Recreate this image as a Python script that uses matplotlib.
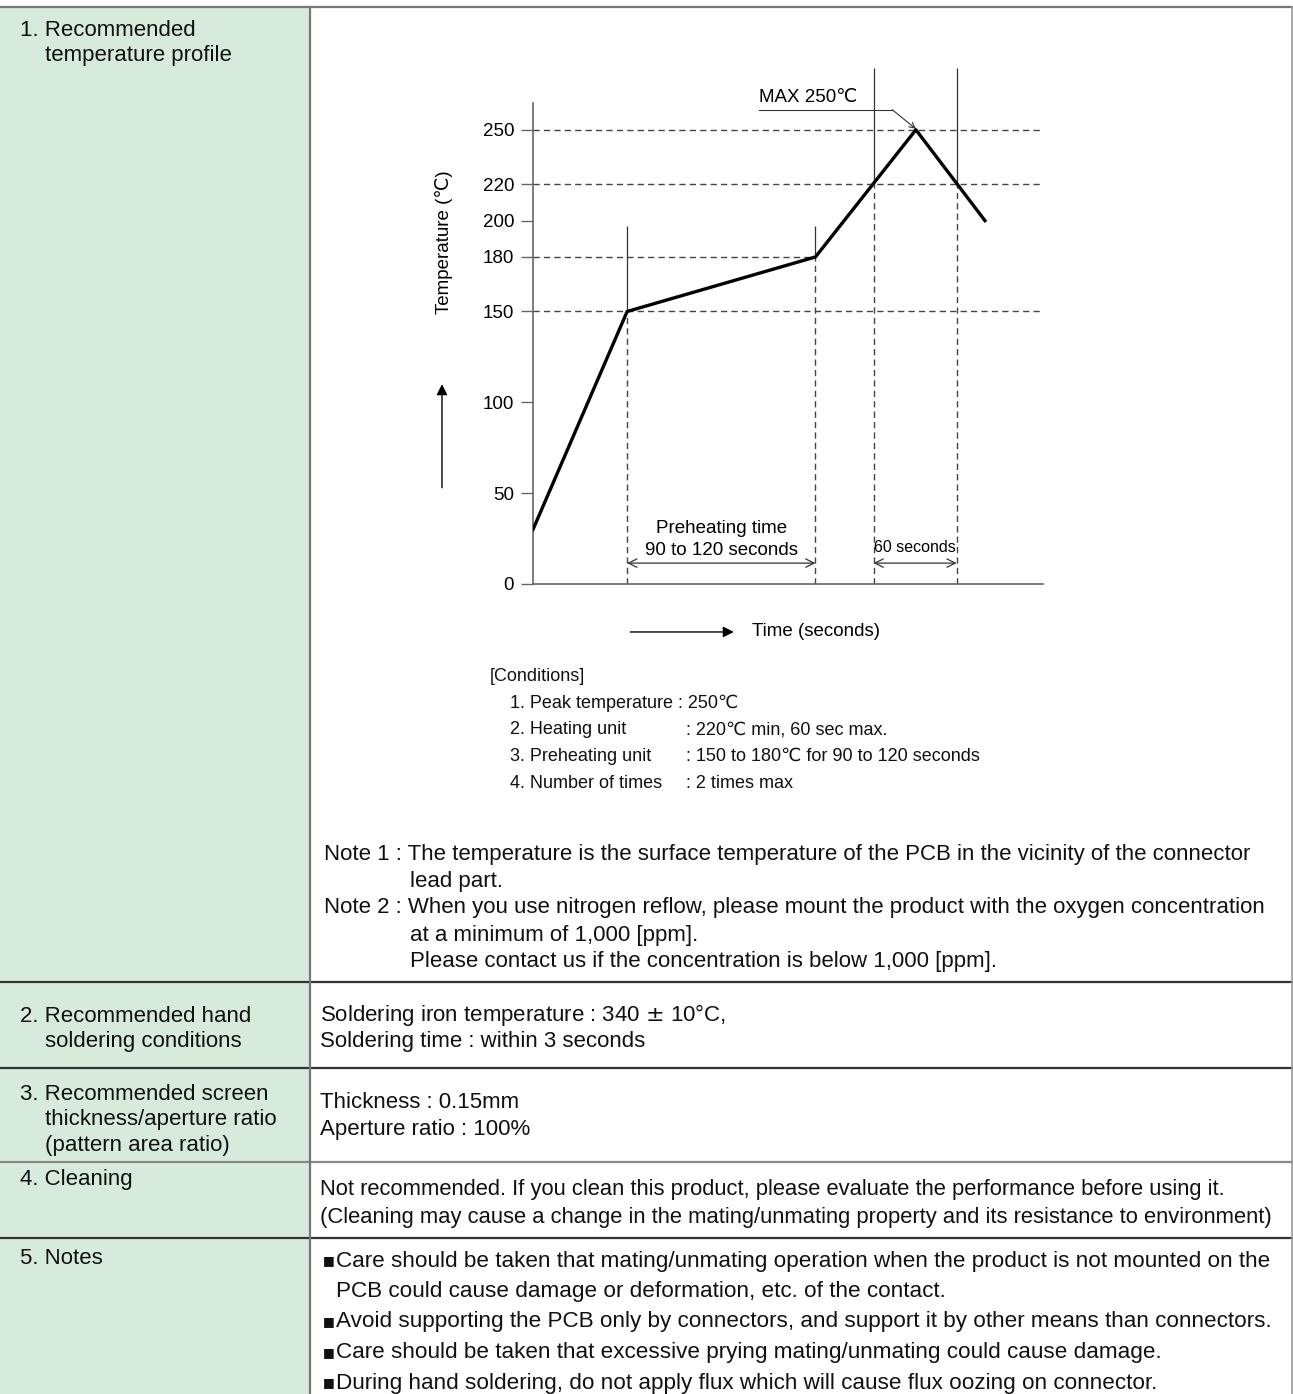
import matplotlib
matplotlib.use('Agg')  # no display
import matplotlib.pyplot as plt
from matplotlib.lines import Line2D
from matplotlib.patches import Rectangle

plt.rcParams['font.family'] = ['Liberation Sans', 'DejaVu Sans']

W, H, DPI = 1293, 1394, 100

# reflow profile (schematic, seconds / degC)
profile_time = [0, 60, 180, 244, 288]
profile_temp = [30, 150, 180, 250, 200]
y_ticks = [0, 50, 100, 150, 180, 200, 220, 250]
full_levels = [150, 220, 250]
preheat_level = 180
preheat_window = [60, 180]
preheat_temps = [150, 180]
reflow_window = [217, 270]
reflow_level = 220
peak_temp = 250

conditions = [
    ('1. Peak temperature : 250℃', ''),
    ('2. Heating unit', ': 220℃ min, 60 sec max.'),
    ('3. Preheating unit', ': 150 to 180℃ for 90 to 120 seconds'),
    ('4. Number of times', ': 2 times max'),
]
notes = [
    ('Note 1 : The temperature is the surface temperature of the PCB in the vicinity of the connector', 0),
    ('lead part.', 1),
    ('Note 2 : When you use nitrogen reflow, please mount the product with the oxygen concentration', 0),
    ('at a minimum of 1,000 [ppm].', 1),
    ('Please contact us if the concentration is below 1,000 [ppm].', 1),
]
row_labels = [
    ['1. Recommended', 'temperature profile'],
    ['2. Recommended hand', 'soldering conditions'],
    ['3. Recommended screen', 'thickness/aperture ratio', '(pattern area ratio)'],
    ['4. Cleaning'],
    ['5. Notes'],
]
row_label_y = [30, 1017, 1095, 1180, 1258]
row_lines = [7, 982, 1068, 1162, 1238]
row_line_colors = ['#777777', '#333333', '#333333', '#888888', '#333333']
hand_text = ['Soldering iron temperature : 340 $\\pm$ 10°C,', 'Soldering time : within 3 seconds']
screen_text = ['Thickness : 0.15mm', 'Aperture ratio : 100%']
clean_text = ['Not recommended. If you clean this product, please evaluate the performance before using it.',
              '(Cleaning may cause a change in the mating/unmating property and its resistance to environment)']
bullets = [
    ('Care should be taken that mating/unmating operation when the product is not mounted on the', True),
    ('PCB could cause damage or deformation, etc. of the contact.', False),
    ('Avoid supporting the PCB only by connectors, and support it by other means than connectors.', True),
    ('Care should be taken that excessive prying mating/unmating could cause damage.', True),
    ('During hand soldering, do not apply flux which will cause flux oozing on connector.', True),
]

fig = plt.figure(figsize=(W / DPI, H / DPI), dpi=DPI)
fig.patch.set_facecolor('white')


def fx(px):
    return px / W


def fy(py):
    return 1 - py / H


def ftext(px, py, s, size=16, **kw):
    fig.text(fx(px), fy(py), s, fontsize=size, va='center', ha=kw.pop('ha', 'left'), color='#111111', **kw)


# table background and rules
fig.add_artist(Rectangle((0, 0), fx(310), fy(7), transform=fig.transFigure,
                         facecolor='#d7ebdc', edgecolor='none', zorder=0))
for y, c in zip(row_lines, row_line_colors):
    fig.add_artist(Line2D([0, 1], [fy(y), fy(y)], transform=fig.transFigure, color=c, lw=1.6))
fig.add_artist(Line2D([fx(310), fx(310)], [0, fy(7)], transform=fig.transFigure, color='#777777', lw=1.6))
fig.add_artist(Line2D([fx(1292), fx(1292)], [0, fy(7)], transform=fig.transFigure, color='#999999', lw=1.2))

for lines, y0 in zip(row_labels, row_label_y):
    for i, s in enumerate(lines):
        ftext(20 if i == 0 else 45, y0 + i * 25, s)

# chart axes, placed so data maps onto the drawing area
ax = fig.add_axes([fx(533), fy(584), 510 / W, 516 / H])
ax.set_xlim(0, 325)
ax.set_ylim(0, 284)
ax.patch.set_alpha(0)
for s in ['top', 'right']:
    ax.spines[s].set_visible(False)
ax.spines['left'].set_bounds(0, 265)
for s in ['left', 'bottom']:
    ax.spines[s].set_color('#666666')
    ax.spines[s].set_linewidth(1.2)
ax.set_xticks([])
ax.set_yticks(y_ticks)
ax.tick_params(axis='y', length=8.5, width=1, color='#666666', labelsize=13.5, pad=5)

dash = (0, (4.5, 3))
ax.hlines(full_levels, 0, 325, colors='#444444', lw=1, linestyles=dash)
ax.hlines(preheat_level, 0, preheat_window[1], colors='#444444', lw=1, linestyles=dash)
ax.vlines(preheat_window, 0, preheat_temps, colors='#444444', lw=1, linestyles=dash)
ax.vlines(reflow_window, 0, reflow_level, colors='#444444', lw=1, linestyles=dash)
ax.vlines(preheat_window, preheat_temps, 197, colors='#333333', lw=0.9)
ax.vlines(reflow_window, reflow_level, 284, colors='#333333', lw=0.9, clip_on=False)
ax.plot(profile_time, profile_temp, color='black', lw=2.4, solid_joinstyle='round', zorder=5)

# dimension arrows
arr = dict(arrowstyle='<->', lw=0.9, color='#333333', shrinkA=0, shrinkB=0, mutation_scale=15)
ax.annotate('', xy=(preheat_window[0], 11.5), xytext=(preheat_window[1], 11.5), arrowprops=arr)
ax.annotate('', xy=(reflow_window[0], 11.5), xytext=(reflow_window[1], 11.5), arrowprops=arr)
ax.text(sum(preheat_window) / 2, 30.5, 'Preheating time', ha='center', va='center', fontsize=13.5)
ax.text(sum(preheat_window) / 2, 18.5, '90 to 120 seconds', ha='center', va='center', fontsize=13.5)
ax.text(sum(reflow_window) / 2, 20, '60 seconds', ha='center', va='center', fontsize=11.5,
        family=['Liberation Sans Narrow', 'Liberation Sans'])

# peak callout
ax.text(144, 267.5, 'MAX 250℃', ha='left', va='center', fontsize=13.5, clip_on=False)
ax.plot([144, 229], [261, 261], color='#333333', lw=0.8, clip_on=False)
ax.annotate('', xy=(profile_time[3], peak_temp + 0.5), xytext=(229, 261),
            arrowprops=dict(arrowstyle='->', lw=0.8, color='#333333', shrinkA=0, shrinkB=0))

# axis captions
ax.text(-57, 188, 'Temperature (℃)', rotation=90, ha='center', va='center', fontsize=13.5, clip_on=False)
ax.annotate('', xy=(-58, 110), xytext=(-58, 53), annotation_clip=False,
            arrowprops=dict(arrowstyle='-|>', lw=1, color='black', shrinkA=0, shrinkB=0, mutation_scale=16))
ax.annotate('', xy=(128, -26.4), xytext=(62, -26.4), annotation_clip=False,
            arrowprops=dict(arrowstyle='-|>', lw=1, color='black', shrinkA=0, shrinkB=0, mutation_scale=16))
ax.text(139.5, -26.4, 'Time (seconds)', ha='left', va='center', fontsize=13.5, clip_on=False)

# conditions
ftext(490, 677, '[Conditions]', size=13)
for i, (k, v) in enumerate(conditions):
    ftext(510, 703 + i * 26.7, k, size=13)
    if v:
        ftext(686, 703 + i * 26.7, v, size=13)

for i, (s, indent) in enumerate(notes):
    ftext(410 if indent else 324, 854 + i * 27, s, size=16)

for i, s in enumerate(hand_text):
    ftext(320, 1015 + i * 26, s, size=16)
for i, s in enumerate(screen_text):
    ftext(320, 1103 + i * 27, s, size=16)
for i, s in enumerate(clean_text):
    ftext(320, 1190 + i * 28, s, size=15.8)
for i, (s, b) in enumerate(bullets):
    y = 1261 + i * 30.5
    if b:
        ftext(323, y, '■', size=9, family=['DejaVu Sans'])
    ftext(336, y, s, size=16.2)

fig.savefig('out.png', dpi=DPI)
